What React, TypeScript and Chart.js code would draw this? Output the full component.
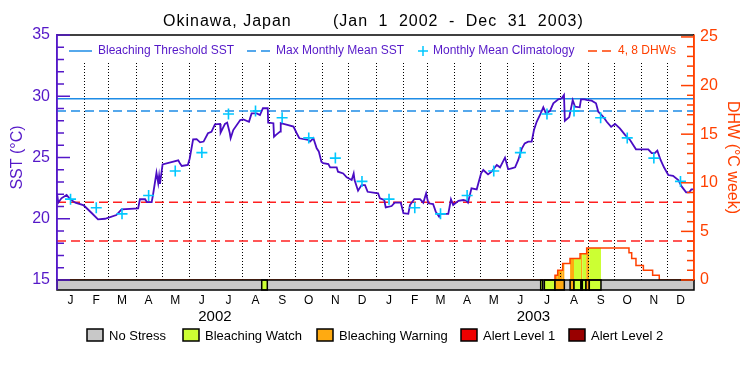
import React, { useEffect, useRef } from "react";
import { Chart, registerables } from "chart.js";

Chart.register(...registerables);

// ---------- data ----------
const monthLengths = [31, 28, 31, 30, 31, 30, 31, 31, 30, 31, 30, 31];
const monthLabels = ["J", "F", "M", "A", "M", "J", "J", "A", "S", "O", "N", "D"];
const yearLabels = ["2002", "2003"];
const titleLeft = "Okinawa, Japan";
const titleRight = "(Jan 1 2002 - Dec 31 2003)";

// SST (°C), days since Jan 1 2002
const sstDays = [
  0, 1.5, 5, 11, 15, 21, 30, 32, 40, 47, 55, 68, 74, 93, 95, 101, 103, 108.5, 110, 114,
  116, 117, 118, 121, 139, 141, 143, 150, 152, 156, 160, 164, 168, 173, 177, 181, 187, 187.5, 192.5, 195,
  198, 199, 202, 210, 213.5, 220, 223, 229, 232.6, 236, 241.5, 242, 248, 248.7, 251, 255.6, 256.4, 264, 271, 274.7,
  277.7, 288, 290, 293.8, 297.6, 300, 303, 305, 311, 313, 320.5, 322, 328, 332, 337.7, 340, 341, 345, 349, 353,
  356, 368, 370, 375, 376.7, 383.5, 387, 394, 397, 402.6, 404.5, 409.5, 416, 419.8, 423, 425.5, 431, 434, 437.8, 439,
  448.4, 451.5, 454, 460, 465.6, 469, 471, 475, 481, 486, 488.5, 494, 498, 504, 507.7, 513.4, 517, 521, 525, 528.6,
  532.5, 536, 540, 544, 546.6, 549.7, 553.5, 557.3, 560.4, 565, 568.8, 574.5, 578.4, 581, 582, 587, 591, 593.6, 599, 600.5,
  604.7, 607.7, 612.7, 617.7, 620.3, 626, 630, 635, 639.5, 645, 651, 656.7, 663.5, 677.6, 681.5, 685, 688, 691.7, 695.6, 700.5,
  706, 712, 716, 721, 724.5, 727, 730,
];
const sstValues = [
  22.08, 21.31, 21.67, 21.94, 21.6, 21.31, 21.12, 21.0, 20.45, 19.95, 20.0, 20.3, 20.77, 20.85, 21.59, 21.59, 21.35, 21.35, 21.94, 23.76,
  22.9, 23.5, 22.84, 24.44, 24.77, 24.5, 24.31, 24.4, 24.9, 26.48, 26.5, 26.24, 26.3, 26.98, 27.1, 27.71, 27.74, 27.03, 27.74, 27.85,
  27.0, 26.57, 27.24, 28.06, 28.1, 27.92, 28.6, 28.6, 28.47, 29.02, 29.02, 27.84, 27.8, 26.7, 26.85, 27.11, 27.8, 27.66, 27.52, 26.98,
  26.57, 26.43, 26.3, 26.57, 25.75, 25.5, 24.66, 24.53, 24.47, 24.2, 24.2, 23.84, 23.7, 23.38, 23.16, 23.7, 23.16, 22.29, 22.75, 22.75,
  22.2, 22.08, 21.67, 21.53, 20.93, 21.04, 21.31, 21.31, 20.45, 20.4, 21.12, 21.61, 21.61, 21.31, 22.08, 21.26, 21.2, 20.58, 20.18, 20.4,
  20.4, 21.58, 21.12, 21.47, 21.53, 21.47, 21.31, 22.48, 22.4, 23.71, 23.98, 23.62, 23.84, 24.39, 24.2, 24.99, 24.04, 24.12, 24.2, 24.8,
  25.7, 26.15, 26.29, 26.29, 27.24, 27.92, 28.47, 29.1, 28.6, 28.8, 29.42, 29.75, 29.83, 30.1, 28.0, 28.3, 29.69, 29.15, 29.1, 29.75,
  29.75, 29.69, 29.64, 29.42, 28.74, 28.33, 27.92, 27.5, 27.74, 27.38, 26.85, 26.43, 25.67, 25.67, 25.35, 25.35, 25.56, 24.8, 24.2, 23.57,
  23.5, 23.16, 22.62, 22.16, 22.16, 22.4, 22.4,
];

// Monthly mean climatology (°C), Jan..Dec
const climValues = [21.6, 20.9, 20.4, 21.9, 23.9, 25.4, 28.55, 28.8, 28.25, 26.6, 24.95, 23.05];
const maxMonthlyMean = 28.8;
const bleachingThreshold = 29.8;
const dhwLevels = [4, 8];

// Degree heating weeks (step values, each holds until the next day)
const dhwDays = [0, 570.7, 573.8, 579.5, 587.9, 599.4, 607, 655.5, 658.6, 663.5, 672, 682.6, 690.2, 730];
const dhwValues = [0, 0.5, 1.0, 1.7, 2.2, 2.7, 3.3, 2.8, 2.2, 1.5, 1.0, 0.5, 0, 0];

// Stress status periods
const statusStart = [234.6, 554.3, 558.5, 570.7, 588, 592.5, 600.5, 602, 606.2, 610];
const statusEnd = [241.0, 556.6, 570.7, 581.4, 592.5, 600.5, 602, 606.2, 610, 623.4];
const statusLevel = [1, 1, 1, 2, 2, 1, 2, 1, 2, 1];
const statusNames = ["No Stress", "Bleaching Watch", "Bleaching Warning", "Alert Level 1", "Alert Level 2"];

// ---------- styles ----------
const FONT = "Liberation Sans";
const PURPLE = "#5518c8";
const SST_LINE = "#4a0cc4";
const ORANGE = "#ff4000";
const RED = "#ff2020";
const BLUE = "#1e8ce6";
const CYAN = "#00c8ff";
const statusColors = ["#c8c8c8", "#ccff33", "#ffaa11", "#ee0000", "#990000"];

const monthStarts: number[] = [];
(() => {
  let acc = 0;
  for (let y = 0; y < 2; y++) {
    for (let m = 0; m < 12; m++) {
      monthStarts.push(acc);
      acc += monthLengths[m];
    }
  }
  monthStarts.push(acc);
})();
const totalDays = monthStarts[monthStarts.length - 1];
const monthMids = monthStarts.slice(0, 24).map((s, i) => s + monthLengths[i % 12] / 2);
const yearMids = [monthStarts[6], monthStarts[18]];

function txt(ctx: CanvasRenderingContext2D, s: string, x: number, y: number, size: number, color: string, align: CanvasTextAlign = "left", ls = 0, ws = 0) {
  ctx.save();
  ctx.font = `${size}px "${FONT}"`;
  ctx.fillStyle = color;
  ctx.textAlign = align;
  ctx.textBaseline = "middle";
  try {
    (ctx as any).letterSpacing = ls + "px";
    (ctx as any).wordSpacing = ws + "px";
  } catch (e) {}
  ctx.fillText(s, x, y);
  ctx.restore();
}

const customPlugin = {
  id: "custom",
  beforeDatasetsDraw(chart: any) {
    const { ctx, chartArea, scales } = chart;
    const xs = scales.x;
    const y1 = scales.y1;
    ctx.save();
    // status colour under DHW curve
    for (let s = 0; s < statusStart.length; s++) {
      const lvl = statusLevel[s];
      if (lvl === 0) continue;
      ctx.fillStyle = statusColors[lvl];
      for (let i = 0; i < dhwDays.length - 1; i++) {
        const a = Math.max(statusStart[s], dhwDays[i]);
        const b = Math.min(statusEnd[s], dhwDays[i + 1]);
        if (b <= a || dhwValues[i] <= 0) continue;
        const p0 = xs.getPixelForValue(a);
        const p1 = xs.getPixelForValue(b);
        const pt = y1.getPixelForValue(dhwValues[i]);
        const pb = y1.getPixelForValue(0);
        ctx.fillRect(p0, pt, p1 - p0, pb - pt);
      }
    }
    // month dotted lines
    ctx.strokeStyle = "#000";
    ctx.lineWidth = 1;
    ctx.setLineDash([1, 2]);
    xs.ticks.forEach((t: any) => {
      if (t.value <= 0 || t.value >= totalDays) return;
      const px = Math.round(xs.getPixelForValue(t.value)) + 0.5;
      ctx.beginPath();
      ctx.moveTo(px, chartArea.top + 28);
      ctx.lineTo(px, chartArea.bottom);
      ctx.stroke();
    });
    ctx.restore();
  },
  afterDatasetsDraw(chart: any) {
    const { ctx, chartArea, scales } = chart;
    const xs = scales.x;
    const ys = scales.y;
    const y1 = scales.y1;
    const L = chartArea.left, R = chartArea.right, T = chartArea.top, B = chartArea.bottom;
    ctx.save();
    // status bar
    const barH = 10;
    ctx.lineWidth = 1.5;
    ctx.strokeStyle = "#000";
    ctx.fillStyle = statusColors[0];
    ctx.fillRect(L, B, R - L, barH);
    for (let s = 0; s < statusStart.length; s++) {
      const p0 = xs.getPixelForValue(statusStart[s]);
      const p1 = xs.getPixelForValue(statusEnd[s]);
      ctx.fillStyle = statusColors[statusLevel[s]];
      ctx.fillRect(p0, B, p1 - p0, barH);
      ctx.strokeRect(p0, B, p1 - p0, barH);
    }
    ctx.strokeRect(L, B, R - L, barH);
    // top border
    ctx.beginPath();
    ctx.moveTo(L, T);
    ctx.lineTo(R, T);
    ctx.stroke();
    // left axis extension
    ctx.strokeStyle = PURPLE;
    ctx.beginPath();
    ctx.moveTo(L, T);
    ctx.lineTo(L, B + barH);
    ctx.stroke();
    // inward ticks left
    ys.ticks.forEach((t: any) => {
      const v = t.value;
      if (Math.abs(v - Math.round(v)) > 1e-6) return;
      const len = Math.round(v) % 5 === 0 ? 13 : 7;
      const py = ys.getPixelForValue(v);
      ctx.beginPath();
      ctx.moveTo(L, py);
      ctx.lineTo(L + len, py);
      ctx.stroke();
    });
    // inward ticks right
    ctx.strokeStyle = ORANGE;
    ctx.beginPath();
    ctx.moveTo(R, T);
    ctx.lineTo(R, B);
    ctx.stroke();
    y1.ticks.forEach((t: any) => {
      const v = t.value;
      if (Math.abs(v - Math.round(v)) > 1e-6) return;
      const len = Math.round(v) % 5 === 0 ? 13 : 7;
      const py = y1.getPixelForValue(v);
      ctx.beginPath();
      ctx.moveTo(R, py);
      ctx.lineTo(R - len, py);
      ctx.stroke();
    });
    ctx.restore();

    // title
    txt(ctx, titleLeft, 163, 22, 16, "#000", "left", 1);
    txt(ctx, titleRight, 333, 22, 16, "#000", "left", 1, 5);

    // top legend
    const ly = T + 16;
    ctx.save();
    ctx.lineWidth = 1.5;
    ctx.strokeStyle = BLUE;
    ctx.beginPath();
    ctx.moveTo(69, ly);
    ctx.lineTo(92, ly);
    ctx.stroke();
    txt(ctx, "Bleaching Threshold SST", 98, ly, 12, PURPLE);
    ctx.setLineDash([9, 5]);
    ctx.beginPath();
    ctx.moveTo(247, ly);
    ctx.lineTo(271, ly);
    ctx.stroke();
    txt(ctx, "Max Monthly Mean SST", 276, ly, 12, PURPLE);
    ctx.setLineDash([]);
    ctx.strokeStyle = CYAN;
    ctx.beginPath();
    ctx.moveTo(418, ly);
    ctx.lineTo(428, ly);
    ctx.moveTo(423, ly - 5);
    ctx.lineTo(423, ly + 5);
    ctx.stroke();
    txt(ctx, "Monthly Mean Climatology", 433, ly, 12, PURPLE);
    ctx.strokeStyle = ORANGE;
    ctx.setLineDash([9, 5]);
    ctx.beginPath();
    ctx.moveTo(588, ly);
    ctx.lineTo(612, ly);
    ctx.stroke();
    ctx.restore();
    txt(ctx, `${dhwLevels[0]}, ${dhwLevels[1]} DHWs`, 618, ly, 12, ORANGE);

    // bottom legend
    const boxX = [87, 183, 317, 461, 569];
    ctx.save();
    ctx.lineWidth = 1.5;
    ctx.strokeStyle = "#000";
    statusNames.forEach((n, i) => {
      ctx.fillStyle = statusColors[i];
      ctx.fillRect(boxX[i], 329, 16, 12);
      ctx.strokeRect(boxX[i], 329, 16, 12);
      txt(ctx, n, boxX[i] + 22, 336, 13, "#000");
    });
    ctx.restore();
  },
};

export default function App() {
  const ref = useRef<HTMLCanvasElement | null>(null);
  useEffect(() => {
    if (!ref.current) return;
    Chart.defaults.font.family = FONT;
    const sstData = sstDays.map((d, i) => ({ x: d, y: sstValues[i] }));
    const climData = monthMids.map((d, i) => ({ x: d, y: climValues[i % 12] }));
    const dhwData = dhwDays.map((d, i) => ({ x: d, y: dhwValues[i] }));
    const hLine = (v: number) => [
      { x: 0, y: v },
      { x: totalDays, y: v },
    ];
    const chart = new Chart(ref.current, {
      type: "line",
      data: {
        datasets: [
          {
            label: "Monthly Mean Climatology",
            data: climData,
            showLine: false,
            pointStyle: "cross",
            pointRadius: 5.5,
            pointBorderWidth: 1.6,
            pointBorderColor: CYAN,
            borderColor: CYAN,
            xAxisID: "x",
            yAxisID: "y",
          },
          {
            label: "SST",
            data: sstData,
            borderColor: SST_LINE,
            borderWidth: 1.8,
            pointRadius: 0,
            xAxisID: "x",
            yAxisID: "y",
          },
          {
            label: "Bleaching Threshold SST",
            data: hLine(bleachingThreshold),
            borderColor: BLUE,
            borderWidth: 1.5,
            pointRadius: 0,
            xAxisID: "x",
            yAxisID: "y",
          },
          {
            label: "Max Monthly Mean SST",
            data: hLine(maxMonthlyMean),
            borderColor: BLUE,
            borderWidth: 1.5,
            borderDash: [9, 5],
            pointRadius: 0,
            xAxisID: "x",
            yAxisID: "y",
          },
          {
            label: "DHW",
            data: dhwData,
            borderColor: ORANGE,
            borderWidth: 1.5,
            stepped: "before",
            pointRadius: 0,
            xAxisID: "x",
            yAxisID: "y1",
          },
          {
            label: "4 DHW",
            data: hLine(dhwLevels[0]),
            borderColor: RED,
            borderWidth: 1.5,
            borderDash: [9, 5],
            pointRadius: 0,
            xAxisID: "x",
            yAxisID: "y1",
          },
          {
            label: "8 DHW",
            data: hLine(dhwLevels[1]),
            borderColor: RED,
            borderWidth: 1.5,
            borderDash: [9, 5],
            pointRadius: 0,
            xAxisID: "x",
            yAxisID: "y1",
          },
        ],
      } as any,
      options: {
        responsive: false,
        animation: false,
        events: [],
        layout: { padding: { top: 35, left: 0, right: 0, bottom: 0 } },
        plugins: { legend: { display: false }, tooltip: { enabled: false }, title: { display: false } },
        scales: {
          x: {
            type: "linear",
            min: 0,
            max: totalDays,
            position: "bottom",
            weight: 0,
            afterBuildTicks: (s: any) => {
              s.ticks = monthStarts.map((v) => ({ value: v }));
            },
            afterFit: (s: any) => {
              s.height = 10;
            },
            ticks: { display: false },
            grid: { display: false, drawTicks: false },
            border: { display: false },
          },
          x2: {
            type: "linear",
            min: 0,
            max: totalDays,
            position: "bottom",
            weight: 1,
            afterBuildTicks: (s: any) => {
              s.ticks = monthMids.map((v) => ({ value: v }));
            },
            afterFit: (s: any) => {
              s.height = 17;
            },
            ticks: {
              autoSkip: false,
              maxRotation: 0,
              padding: 3,
              color: "#000",
              font: { family: FONT, size: 12 },
              callback: (_v: any, i: number) => monthLabels[i % 12],
            },
            grid: { display: false, drawTicks: false },
            border: { display: false },
          },
          x3: {
            type: "linear",
            min: 0,
            max: totalDays,
            position: "bottom",
            weight: 2,
            afterBuildTicks: (s: any) => {
              s.ticks = yearMids.map((v) => ({ value: v }));
            },
            afterFit: (s: any) => {
              s.height = 68;
            },
            ticks: {
              autoSkip: false,
              maxRotation: 0,
              padding: 1,
              color: "#000",
              font: { family: FONT, size: 15 },
              callback: (_v: any, i: number) => yearLabels[i],
            },
            grid: { display: false, drawTicks: false },
            border: { display: false },
          },
          y: {
            type: "linear",
            position: "left",
            min: 15,
            max: 35,
            afterFit: (s: any) => {
              s.width = 57;
            },
            ticks: {
              stepSize: 1,
              autoSkip: false,
              padding: 7,
              color: PURPLE,
              font: { family: FONT, size: 16 },
              callback: (v: any) => (Math.round(v) % 5 === 0 ? String(v) : ""),
            },
            grid: { display: false, drawTicks: false },
            border: { display: true, color: PURPLE, width: 1.5 },
            title: {
              display: true,
              text: "SST (°C)",
              color: PURPLE,
              font: { family: FONT, size: 16 },
              padding: { top: 8, bottom: 0 },
            },
          },
          y1: {
            type: "linear",
            position: "right",
            min: 0,
            max: 25.2,
            afterFit: (s: any) => {
              s.width = 56;
            },
            ticks: {
              stepSize: 1,
              autoSkip: false,
              includeBounds: false,
              padding: 6,
              color: ORANGE,
              font: { family: FONT, size: 16 },
              callback: (v: any) => (Math.abs(v - Math.round(v)) < 1e-6 && Math.round(v) % 5 === 0 ? String(Math.round(v)) : ""),
            },
            grid: { display: false, drawTicks: false },
            border: { display: true, color: ORANGE, width: 1.5 },
            title: {
              display: true,
              text: "DHW (°C week)",
              color: ORANGE,
              font: { family: FONT, size: 16 },
              padding: { top: 8, bottom: 0 },
            },
          },
        },
      } as any,
      plugins: [customPlugin],
    });
    return () => chart.destroy();
  }, []);
  return (
    <div style={{ position: "absolute", left: 0, top: 0, width: 750, height: 375, background: "#fff" }}>
      <canvas ref={ref} width={750} height={375} style={{ width: 750, height: 375, display: "block" }} />
    </div>
  );
}
